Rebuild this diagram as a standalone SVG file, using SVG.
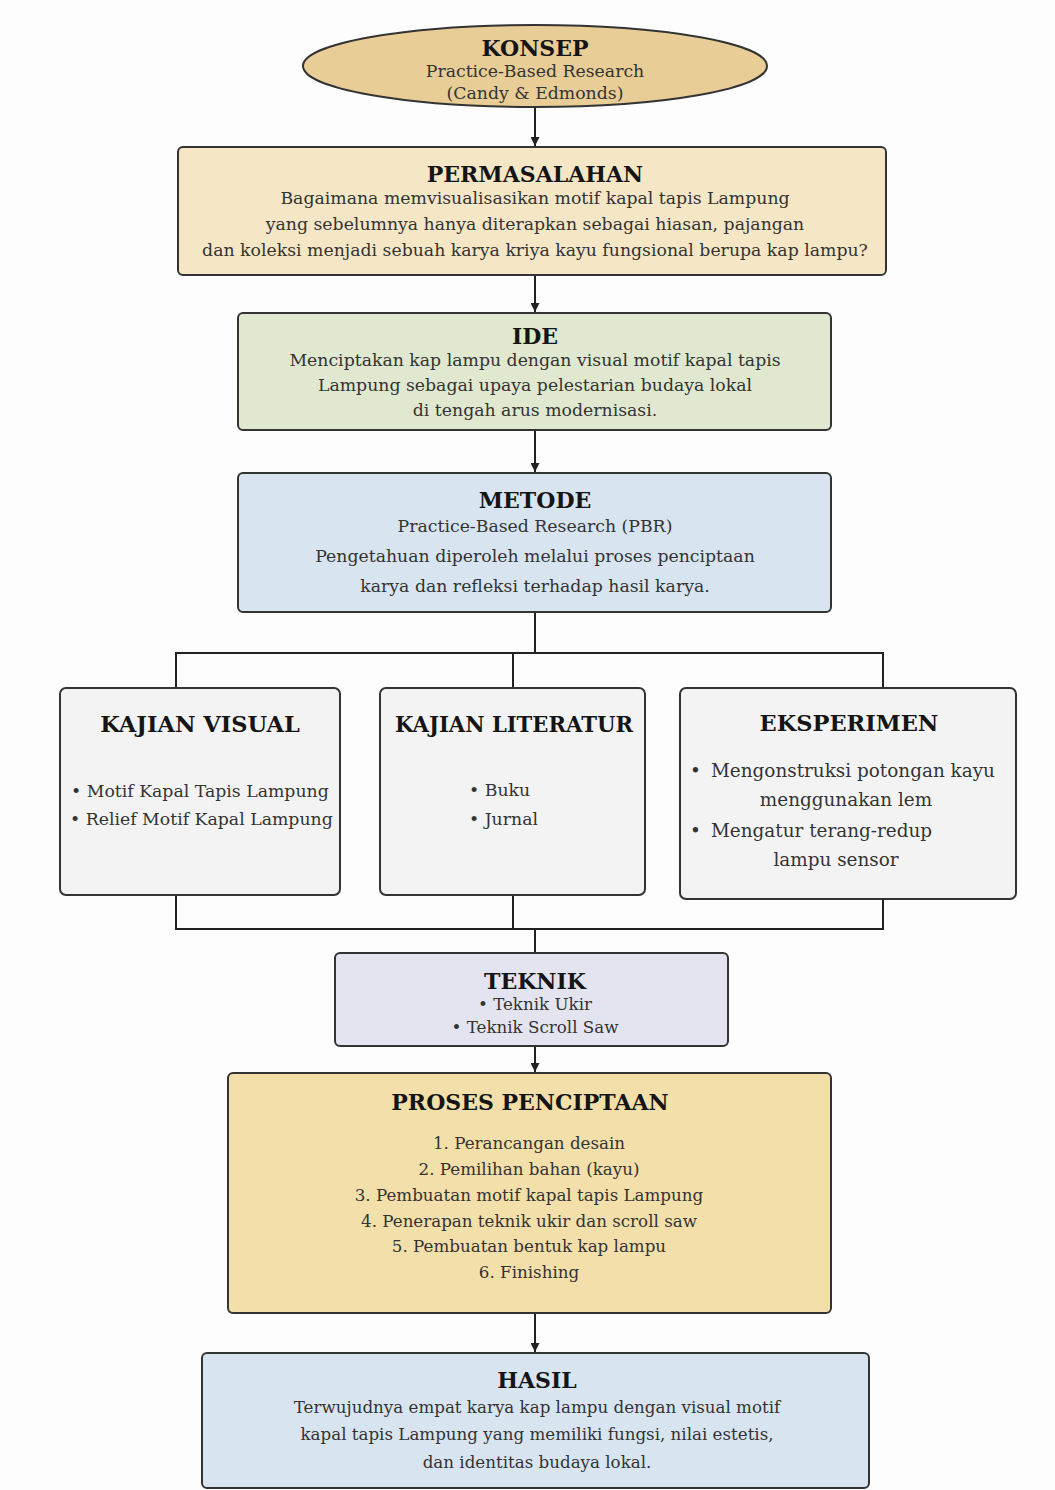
<svg xmlns="http://www.w3.org/2000/svg" width="1055" height="1490" viewBox="0 0 1055 1490">
<defs>
<marker id="ah" viewBox="0 0 10 10" refX="10" refY="5" markerWidth="9" markerHeight="9" orient="auto" markerUnits="userSpaceOnUse">
<path d="M0,0 L10,5 L0,10 z" fill="#222"/>
</marker>
<style>
text{font-family:"DejaVu Serif","Liberation Serif",serif;text-anchor:middle;}
.t{font-weight:bold;font-size:22px;fill:#151515;}
.tb{font-weight:bold;font-size:22.5px;fill:#151515;}
.b{font-size:17.3px;fill:#333;}
.bs{font-size:16.7px;fill:#333;}
.bl{font-size:18.4px;fill:#333;}
.box{stroke:#333;stroke-width:2;}
.ln{stroke:#222;stroke-width:2;fill:none;}
</style>
</defs>
<rect width="1055" height="1490" fill="#fdfdfd"/>
<g id="connectors">
<line class="ln" x1="535" y1="107" x2="535" y2="146" marker-end="url(#ah)"/>
<line class="ln" x1="535" y1="275" x2="535" y2="312" marker-end="url(#ah)"/>
<line class="ln" x1="535" y1="430" x2="535" y2="472" marker-end="url(#ah)"/>
<polyline class="ln" points="535,612 535,653"/>
<polyline class="ln" points="176,688 176,653 883,653 883,688"/>
<line class="ln" x1="513" y1="653" x2="513" y2="688"/>
<polyline class="ln" points="176,895 176,929 883,929 883,899"/>
<line class="ln" x1="513" y1="895" x2="513" y2="929"/>
<line class="ln" x1="535" y1="929" x2="535" y2="953"/>
<line class="ln" x1="535" y1="1046" x2="535" y2="1072" marker-end="url(#ah)"/>
<line class="ln" x1="535" y1="1313" x2="535" y2="1352" marker-end="url(#ah)"/>
</g>
<g id="konsep">
<ellipse cx="535" cy="66" rx="232" ry="41" fill="#e8cd96" class="box"/>
<text class="t" x="535" y="56">KONSEP</text>
<text class="b" x="535" y="77">Practice-Based Research</text>
<text class="b" x="535" y="99">(Candy &amp; Edmonds)</text>
</g>
<g id="permasalahan">
<rect x="178" y="147" width="708" height="128" rx="5" fill="#f5e7c6" class="box"/>
<text class="t" x="535" y="182">PERMASALAHAN</text>
<text class="b" x="535" y="204">Bagaimana memvisualisasikan motif kapal tapis Lampung</text>
<text class="b" x="535" y="230">yang sebelumnya hanya diterapkan sebagai hiasan, pajangan</text>
<text class="b" x="535" y="256">dan koleksi menjadi sebuah karya kriya kayu fungsional berupa kap lampu?</text>
</g>
<g id="ide">
<rect x="238" y="313" width="593" height="117" rx="5" fill="#e0e9d0" class="box"/>
<text class="t" x="535" y="344">IDE</text>
<text class="b" x="535" y="366">Menciptakan kap lampu dengan visual motif kapal tapis</text>
<text class="b" x="535" y="391">Lampung sebagai upaya pelestarian budaya lokal</text>
<text class="b" x="535" y="416">di tengah arus modernisasi.</text>
</g>
<g id="metode">
<rect x="238" y="473" width="593" height="139" rx="5" fill="#d8e5f1" class="box"/>
<text class="t" x="535" y="508">METODE</text>
<text class="b" x="535" y="532">Practice-Based Research (PBR)</text>
<text class="b" x="535" y="562">Pengetahuan diperoleh melalui proses penciptaan</text>
<text class="b" x="535" y="592">karya dan refleksi terhadap hasil karya.</text>
</g>
<g id="kajian-visual">
<rect x="60" y="688" width="280" height="207" rx="6" fill="#f3f3f3" class="box"/>
<text class="tb" x="200" y="732">KAJIAN VISUAL</text>
<text class="b" x="71" y="797" style="text-anchor:start">• Motif Kapal Tapis Lampung</text>
<text class="b" x="70" y="825" style="text-anchor:start">• Relief Motif Kapal Lampung</text>
</g>
<g id="kajian-literatur">
<rect x="380" y="688" width="265" height="207" rx="6" fill="#f3f3f3" class="box"/>
<text class="tb" x="514" y="732" textLength="238" lengthAdjust="spacingAndGlyphs">KAJIAN LITERATUR</text>
<text class="b" x="469" y="796" style="text-anchor:start">• Buku</text>
<text class="b" x="469" y="825" style="text-anchor:start">• Jurnal</text>
</g>
<g id="eksperimen">
<rect x="680" y="688" width="336" height="211" rx="6" fill="#f3f3f3" class="box"/>
<text class="tb" x="849" y="731">EKSPERIMEN</text>
<text class="bl" x="690" y="777" style="text-anchor:start">•</text>
<text class="bl" x="711" y="777" style="text-anchor:start">Mengonstruksi potongan kayu</text>
<text class="bl" x="846" y="806">menggunakan lem</text>
<text class="bl" x="690" y="837" style="text-anchor:start">•</text>
<text class="bl" x="711" y="837" style="text-anchor:start">Mengatur terang-redup</text>
<text class="bl" x="836" y="866">lampu sensor</text>
</g>
<g id="teknik">
<rect x="335" y="953" width="393" height="93" rx="5" fill="#e4e4f0" class="box"/>
<text class="t" x="535" y="989">TEKNIK</text>
<text class="bs" x="535" y="1010">• Teknik Ukir</text>
<text class="bs" x="535" y="1033">• Teknik Scroll Saw</text>
</g>
<g id="proses-penciptaan">
<rect x="228" y="1073" width="603" height="240" rx="5" fill="#f3dfa9" class="box"/>
<text class="t" x="530" y="1110">PROSES PENCIPTAAN</text>
<text class="bs" x="529" y="1149">1. Perancangan desain</text>
<text class="bs" x="529" y="1175">2. Pemilihan bahan (kayu)</text>
<text class="bs" x="529" y="1201">3. Pembuatan motif kapal tapis Lampung</text>
<text class="bs" x="529" y="1227">4. Penerapan teknik ukir dan scroll saw</text>
<text class="bs" x="529" y="1252">5. Pembuatan bentuk kap lampu</text>
<text class="bs" x="529" y="1278">6. Finishing</text>
</g>
<g id="hasil">
<rect x="202" y="1353" width="667" height="135" rx="5" fill="#d8e5f1" class="box"/>
<text class="t" x="537" y="1388">HASIL</text>
<text class="bs" x="537" y="1413">Terwujudnya empat karya kap lampu dengan visual motif</text>
<text class="bs" x="537" y="1440">kapal tapis Lampung yang memiliki fungsi, nilai estetis,</text>
<text class="bs" x="537" y="1468">dan identitas budaya lokal.</text>
</g>
</svg>
